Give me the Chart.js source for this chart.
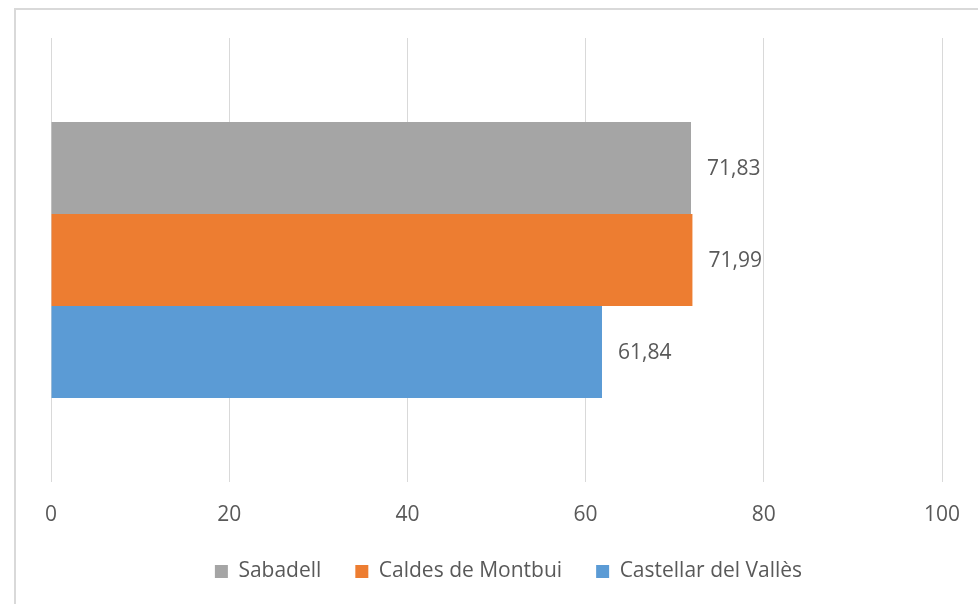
<!DOCTYPE html>
<html>
<head>
<meta charset="utf-8">
<script src="https://cdn.jsdelivr.net/npm/chart.js@4/dist/chart.umd.min.js"></script>
<style>
  html, body { margin: 0; padding: 0; background: #ffffff; }
  #wrap { position: relative; width: 978px; height: 604px; overflow: hidden; background: #fff; }
  #frame { position: absolute; left: 14px; top: 8px; width: 1000px; height: 700px; border: 2px solid #d9d9d9; box-sizing: border-box; }
  canvas { position: absolute; left: 0; top: 0; }
</style>
</head>
<body>
<div id="wrap">
  <div id="frame"></div>
  <canvas id="c" width="978" height="604"></canvas>
</div>
<script>
const categories = [""];
const seriesNames = ["Sabadell", "Caldes de Montbui", "Castellar del Vallès"];
const sabadell = [71.83];
const caldes = [71.99];
const castellar = [61.84];
const xTicks = [0, 20, 40, 60, 80, 100];
const colors = ["#A5A5A5", "#ED7D31", "#5B9BD5"];

const FONT = "'Open Sans', 'DejaVu Sans', sans-serif";
const TEXT = "#595959";

const valueLabels = {
  id: 'valueLabels',
  afterDatasetsDraw(chart) {
    const ctx = chart.ctx;
    ctx.save();
    ctx.font = "21px " + FONT;
    ctx.fillStyle = TEXT;
    ctx.textAlign = 'left';
    ctx.textBaseline = 'middle';
    chart.data.datasets.forEach((ds, i) => {
      const meta = chart.getDatasetMeta(i);
      meta.data.forEach((el, j) => {
        const v = ds.data[j];
        ctx.fillText(v.toFixed(2).replace('.', ','), el.x + 16, el.y + 1);
      });
    });
    ctx.restore();
  }
};

new Chart(document.getElementById('c'), {
  type: 'bar',
  data: {
    labels: categories,
    datasets: [
      { label: seriesNames[0], data: sabadell, backgroundColor: colors[0] },
      { label: seriesNames[1], data: caldes, backgroundColor: colors[1] },
      { label: seriesNames[2], data: castellar, backgroundColor: colors[2] }
    ]
  },
  options: {
    indexAxis: 'y',
    responsive: false,
    animation: false,
    events: [],
    layout: { padding: { left: 51, right: 12, top: 38, bottom: 12 } },
    datasets: { bar: { categoryPercentage: 0.622, barPercentage: 1.0, borderWidth: 0 } },
    scales: {
      x: {
        min: 0, max: 100,
        afterBuildTicks(scale) { scale.ticks = xTicks.map(v => ({ value: v })); },
        afterFit(scale) { scale.height = 45; scale.paddingRight = 0; scale.paddingLeft = 0; },
        grid: { color: '#d9d9d9', lineWidth: 1, drawTicks: false },
        border: { display: false },
        ticks: { color: TEXT, font: { family: FONT, size: 21, lineHeight: 1.0 }, padding: 23 }
      },
      y: {
        position: 'right',
        grid: { display: false },
        border: { display: false },
        ticks: { display: false },
        afterFit(scale) { scale.width = 24; }
      }
    },
    plugins: {
      legend: {
        position: 'bottom',
        labels: {
          color: TEXT,
          font: { family: FONT, size: 21 },
          boxWidth: 13,
          boxHeight: 13,
          padding: 34
        }
      },
      tooltip: { enabled: false }
    }
  },
  plugins: [valueLabels]
});
</script>
</body>
</html>
